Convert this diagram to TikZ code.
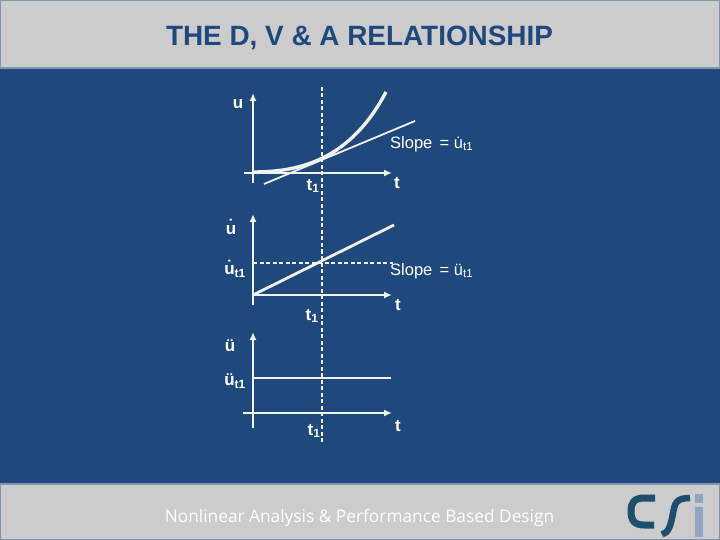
\documentclass[tikz,border=0pt]{standalone}
\usepackage{fontspec}
\setmainfont{Liberation Sans}
\newfontfamily\footfont{Open Sans}
\usetikzlibrary{arrows.meta}
\definecolor{slideblue}{HTML}{1F497D}
\definecolor{bandgray}{HTML}{CCCCCC}
\definecolor{bandedge}{HTML}{7F96B5}
\definecolor{curvewhite}{HTML}{F2F2F2}
\definecolor{logoblue}{HTML}{1D4E6E}
\definecolor{logolight}{HTML}{8FA5C0}
\newcommand{\tone}{\textsubscript{t1}}
\begin{document}
\begin{tikzpicture}[x=1pt,y=-1pt,
   axisline/.style={draw=curvewhite,line width=2.4pt,-{Latex[length=8pt,width=7pt]}},
   plotline/.style={draw=curvewhite,line width=2.8pt},
   thinline/.style={draw=curvewhite,line width=1.8pt},
   guideline/.style={draw=curvewhite,line width=1.4pt,dash pattern=on 4pt off 2.5pt},
   lab/.style={text=white,font=\fontsize{17}{19}\selectfont\bfseries,inner sep=0pt},
   sloplab/.style={text=white,font=\fontsize{16.5}{18}\selectfont,inner sep=0pt,anchor=west}]

\useasboundingbox (0,0) rectangle (720,540);
\fill[slideblue] (0,0) rectangle (720,540);
\filldraw[fill=bandgray,draw=bandedge,line width=1.2pt] (0.6,0.6) rectangle (719.4,68);
\filldraw[fill=bandgray,draw=bandedge,line width=1.2pt] (0.6,484) rectangle (719.4,539.4);

\node[text=slideblue,font=\fontsize{27.9}{30}\selectfont\bfseries,inner sep=0pt] (title) at (359.5,38) {THE D, V \& A RELATIONSHIP};
\node[text=white,font=\footfont\fontsize{17.3}{20}\selectfont,inner sep=0pt] (footer) at (359.5,517.5) {Nonlinear Analysis \& Performance Based Design};

% guide through all three plots
\coordinate (guidetop) at (322,87);
\coordinate (guidebot) at (322,442);
\draw[guideline] (guidetop) -- (guidebot);

% displacement
\coordinate (ubot) at (253,183);
\coordinate (utop) at (253,93);
\coordinate (uleft) at (244,173);
\coordinate (uright) at (392,173);
\coordinate (ustart) at (253,172);
\coordinate (uend) at (386,92);
\coordinate (tanstart) at (264,184);
\coordinate (tanend) at (415,121);
\draw[axisline] (ubot) -- (utop);
\draw[axisline] (uleft) -- (uright);
\draw[plotline,line width=3.4pt] (ustart) .. controls (300,172) and (350,160) .. (uend);
\draw[thinline] (tanstart) -- (tanend);
\node[lab] (ulab) at (238,104) {u};
\node[sloplab] (slopeu) at (390,144) {Slope\, = \.{u}\tone};
\node[lab] (tone) at (313,186) {t\textsubscript{1}};
\node[lab] (tu) at (397,183) {t};

% velocity
\coordinate (vbot) at (253,305);
\coordinate (vtop) at (253,214);
\coordinate (vorig) at (253,295);
\coordinate (vright) at (392,295);
\coordinate (vend) at (394,225);
\coordinate (vdash) at (393,263);
\coordinate (vdashl) at (253,263);
\draw[axisline] (vbot) -- (vtop);
\draw[axisline] (vorig) -- (vright);
\draw[plotline] (vorig) -- (vend);
\draw[guideline] (vdashl) -- (vdash);
\node[lab] (vlab) at (231,227) {\.{u}};
\node[lab] (vtlab) at (235,269) {\.{u}\tone};
\node[sloplab] (slopev) at (390,271) {Slope\, = \"{u}\tone};
\node[lab] (ttwo) at (312,316) {t\textsubscript{1}};
\node[lab] (tv) at (398,305) {t};

% acceleration
\coordinate (abot) at (253,428);
\coordinate (atop) at (253,332);
\coordinate (aleft) at (243,413);
\coordinate (aright) at (392,413);
\coordinate (aone) at (253,378);
\coordinate (aend) at (391,378);
\draw[axisline] (abot) -- (atop);
\draw[axisline] (aleft) -- (aright);
\draw[plotline] (aone) -- (aend);
\node[lab] (alab) at (230,346) {\"{u}};
\node[lab] (atlab) at (235,381) {\"{u}\tone};
\node[lab] (tthree) at (314,431) {t\textsubscript{1}};
\node[lab] (ta) at (398,426) {t};

% logo
\draw[logoblue,line width=7pt] (655,498) -- (644,498) .. controls (634,498) and (631,503) .. (631,511) .. controls (631,520) and (634,525) .. (644,525) -- (654,525);
\draw[logoblue,line width=6.5pt] (690,498) .. controls (676,498) and (675,503) .. (673,513) .. controls (671,524) and (669,533) .. (662,534.5);
\fill[logolight] (695,494) rectangle (703,503);
\fill[logolight] (695,507) rectangle (703,537);
\end{tikzpicture}
\end{document}
